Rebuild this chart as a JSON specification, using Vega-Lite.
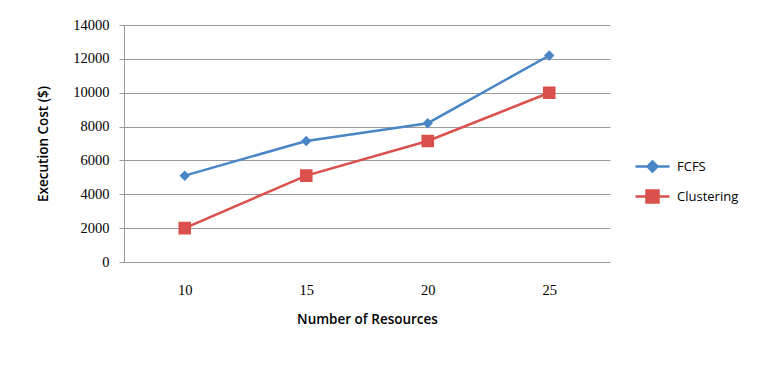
{
  "$schema": "https://vega.github.io/schema/vega-lite/v6.json",
  "autosize": "none",
  "width": 486,
  "height": 237,
  "padding": {"left": 124, "top": 25, "right": 156, "bottom": 103},
  "background": "white",
  "config": {
    "view": {"stroke": null},
    "axis": {"gridColor": "#9a9a9a", "gridWidth": 1, "domainColor": "#9a9a9a", "tickColor": "#9a9a9a"}
  },
  "data": {
    "values": [
      {"resources": 10, "series": "FCFS", "cost": 5100},
      {"resources": 15, "series": "FCFS", "cost": 7150},
      {"resources": 20, "series": "FCFS", "cost": 8200},
      {"resources": 25, "series": "FCFS", "cost": 12200},
      {"resources": 10, "series": "Clustering", "cost": 2000},
      {"resources": 15, "series": "Clustering", "cost": 5100},
      {"resources": 20, "series": "Clustering", "cost": 7150},
      {"resources": 25, "series": "Clustering", "cost": 10000}
    ]
  },
  "encoding": {
    "x": {
      "field": "resources",
      "type": "ordinal",
      "scale": {"type": "point", "padding": 0.5},
      "axis": {
        "title": "Number of Resources",
        "labelAngle": 0,
        "ticks": false,
        "labelPadding": 21,
        "labelFont": "Liberation Serif",
        "labelFontSize": 14.5,
        "labelColor": "#000",
        "titleFont": "Open Sans",
        "titleFontSize": 13.5,
        "titleFontWeight": 600,
        "titleColor": "#000",
        "titlePadding": 16
      }
    },
    "y": {
      "field": "cost",
      "type": "quantitative",
      "scale": {"domain": [0, 14000]},
      "axis": {
        "title": "Execution Cost ($)",
        "values": [0, 2000, 4000, 6000, 8000, 10000, 12000, 14000],
        "format": "d",
        "tickSize": 5,
        "labelPadding": 10,
        "labelFont": "Liberation Serif",
        "labelFontSize": 14.5,
        "labelColor": "#000",
        "titleFont": "Open Sans",
        "titleFontSize": 13.5,
        "titleFontWeight": 600,
        "titleColor": "#000",
        "titlePadding": 22
      }
    },
    "color": {
      "field": "series",
      "type": "nominal",
      "scale": {"domain": ["FCFS", "Clustering"], "range": ["#4A86C5", "#D9504C"]},
      "legend": {
        "title": null,
        "orient": "none",
        "legendX": 522,
        "legendY": 135,
        "labelFont": "Open Sans",
        "labelFontSize": 13,
        "labelColor": "#000",
        "rowPadding": 8,
        "symbolSize": 100,
        "labelOffset": 18,
        "symbolStrokeWidth": 2.5,
        "encode": {
          "symbols": {
            "update": {
              "stroke": {"signal": "datum.value === 'FCFS' ? '#4A86C5' : '#D9504C'"},
              "strokeWidth": {"value": 2.5},
              "strokeOpacity": {"value": 1}
            }
          }
        }
      }
    }
  },
  "layer": [
    {
      "mark": {"type": "line", "strokeWidth": 2.5}
    },
    {
      "mark": {"type": "point", "filled": true, "opacity": 1, "size": 110},
      "encoding": {
        "shape": {
          "field": "series",
          "type": "nominal",
          "scale": {"domain": ["FCFS", "Clustering"], "range": ["M-3.4,0L3.4,0M0,-1L1,0L0,1L-1,0Z", "M-3.4,0L3.4,0M-1.2,-1.2L1.2,-1.2L1.2,1.2L-1.2,1.2Z"]},
          "legend": null
        }
      }
    }
  ]
}
